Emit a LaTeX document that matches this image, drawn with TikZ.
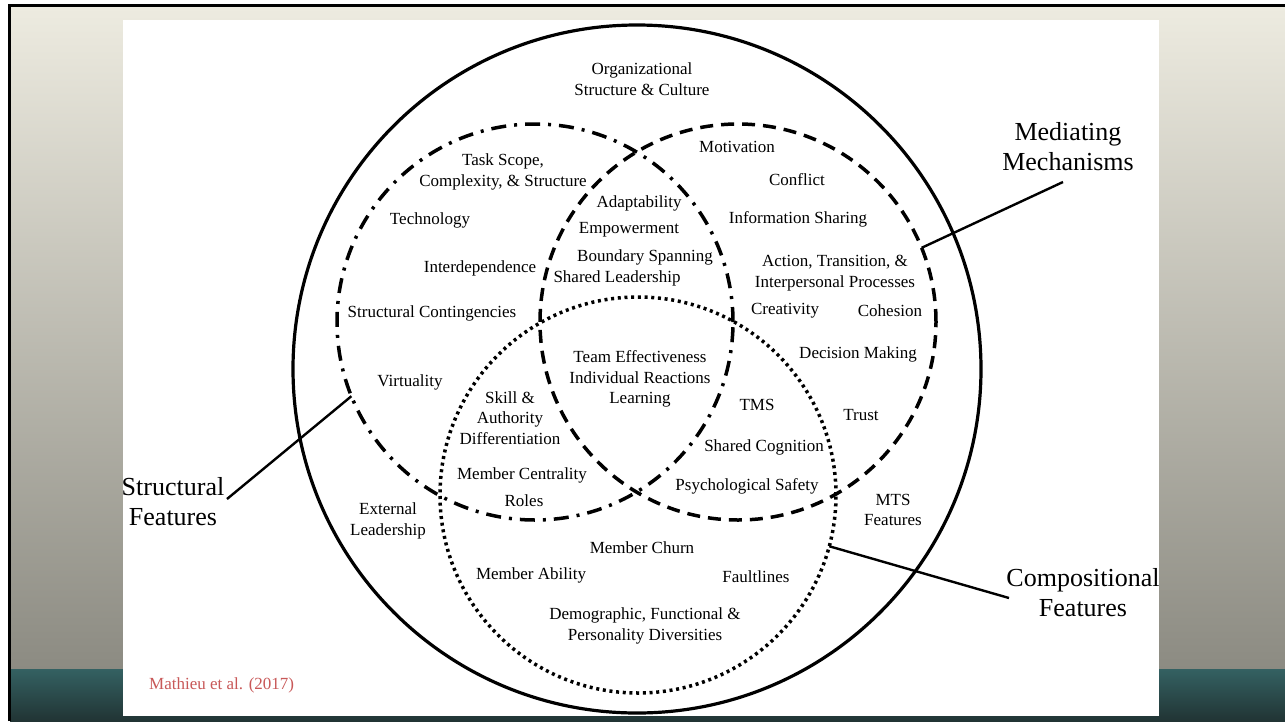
\documentclass[tikz,border=0pt]{standalone}
\usepackage{fontspec}
\setmainfont{Liberation Serif}
\definecolor{beigeTop}{RGB}{237,235,224}
\definecolor{beigeBot}{RGB}{140,139,130}
\definecolor{tealTop}{RGB}{52,97,98}
\definecolor{tealBot}{RGB}{33,52,52}
\definecolor{citeRed}{RGB}{200,88,88}
\begin{document}
\begin{tikzpicture}[x=1pt,y=-1pt,
  lbl/.style={font=\fontsize{17}{20.5}\selectfont, align=center, inner sep=0pt, yshift=-2pt},
  biglbl/.style={font=\fontsize{26}{30}\selectfont, align=center, inner sep=0pt},
  setcircle/.style={circle, draw, minimum size=396pt, inner sep=0pt, outer sep=0pt},
  structline/.style={line width=3.5pt, dash pattern=on 15pt off 8pt on 3pt off 8pt},
  medline/.style={line width=3.5pt, dash pattern=on 13pt off 8pt},
  compline/.style={line width=3.5pt, dash pattern=on 3pt off 3.7pt},
  leader/.style={line width=2.4pt}]
\useasboundingbox (0,0) rectangle (1285,721);
% slide background
\fill[white] (0,0) rectangle (1285,721);
\shade[top color=beigeTop, bottom color=beigeBot] (10,7) rectangle (1285,669);
\shade[top color=tealTop, bottom color=tealBot] (10,669) rectangle (1285,721);
\draw[line width=3pt] (9,721) -- (9,5.5) -- (1285,5.5);
% white panel
\fill[white] (123,20) rectangle (1159,716);

% the four sets
\node[setcircle, line width=3.2pt, minimum size=688pt] (org) at (637,369) {};
\node[setcircle, structline] (sc) at (535,322) {};
\node[setcircle, medline] (mc) at (738,322) {};
\node[setcircle, compline] (cc) at (638,495) {};

% set names and their leader lines
\node[biglbl] (mmLabel) at (1068,147) {Mediating\\Mechanisms};
\node[biglbl] (sfLabel) at (173,502) {Structural\\Features};
\node[biglbl] (cfLabel) at (1083,593) {Compositional\\Features};
\coordinate (mmEnd) at (1063,182);
\coordinate (sfEnd) at (227,499);
\coordinate (cfEnd) at (1009,598);
\draw[leader] (mc.22) -- (mmEnd);
\draw[leader] (sc.202) -- (sfEnd);
\draw[leader] (cc.-15) -- (cfEnd);

% outer ring
\node[lbl] (orgText) at (642,77) {Organizational\\Structure \& Culture};
\node[lbl] (extLead) at (388,519) {External\\Leadership};
\node[lbl] (mts) at (893,508) {MTS\\Features};

% structural features
\node[lbl] (task) at (503,170) {Task Scope,\\Complexity, \& Structure};
\node[lbl] (tech) at (430,218) {Technology};
\node[lbl] (interdep) at (480,266) {Interdependence};
\node[lbl] (contin) at (432,311) {Structural Contingencies};
\node[lbl] (virt) at (410,380) {Virtuality};

% structural and mediating overlap
\node[lbl] (adapt) at (639,201) {Adaptability};
\node[lbl] (empow) at (629,228) {Empowerment};
\node[lbl] (bound) at (645,255) {Boundary Spanning};
\node[lbl] (sharedLead) at (617,276) {Shared Leadership};

% mediating mechanisms
\node[lbl] (motiv) at (737,145) {Motivation};
\node[lbl] (confl) at (797,178) {Conflict};
\node[lbl] (info) at (798,217) {Information Sharing};
\node[lbl] (atip) at (835,271) {Action, Transition, \&\\Interpersonal Processes};
\node[lbl] (creat) at (785,309) {Creativity};
\node[lbl] (cohes) at (890,309) {Cohesion};
\node[lbl] (decis) at (858,352) {Decision Making};
\node[lbl] (trust) at (861,413) {Trust};

% centre of all three
\node[lbl] (outcomes) at (640,377) {Team Effectiveness\\Individual Reactions\\Learning};

% structural and compositional overlap
\node[lbl] (skill) at (510,416) {Skill \&\\Authority\\Differentiation};
\node[lbl] (central) at (522,473) {Member Centrality};
\node[lbl] (roles) at (524,499) {Roles};

% mediating and compositional overlap
\node[lbl] (tms) at (757,403) {TMS};
\node[lbl] (cogn) at (764,445) {Shared Cognition};
\node[lbl] (psych) at (747,484) {Psychological Safety};

% compositional features
\node[lbl] (churn) at (642,546) {Member Churn};
\node[lbl] (ability) at (531,573) {Member Ability};
\node[lbl] (fault) at (756,575) {Faultlines};
\node[lbl] (divers) at (645,624) {Demographic, Functional \&\\Personality Diversities};

% source
\node[anchor=base west, inner sep=0pt, font=\fontsize{17}{20}\selectfont, text=citeRed] (cite) at (149,689) {Mathieu et al. (2017)};
\end{tikzpicture}
\end{document}
